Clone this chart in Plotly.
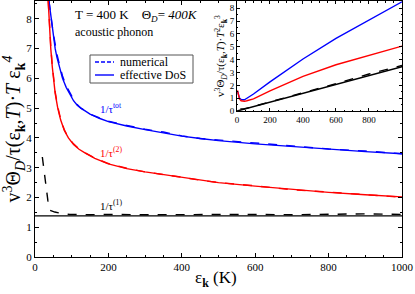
import plotly.graph_objects as go

# ---------------- main panel data ----------------
eps_blue = [38, 42, 46, 50, 55, 60, 67, 75, 85, 95, 105, 115, 125, 150, 175, 200, 250, 300, 350, 400, 450, 500, 600, 700, 800, 900, 1000]
tot_dos = [8.6, 8.2, 7.7, 7.35, 7.0, 6.7, 6.35, 6.0, 5.7, 5.45, 5.25, 5.1, 5.0, 4.8, 4.66, 4.55, 4.4, 4.28, 4.16, 4.06, 3.98, 3.91, 3.8, 3.71, 3.62, 3.54, 3.47]
tot_num = [8.6, 8.3, 7.85, 7.5, 7.12, 6.8, 6.45, 6.08, 5.75, 5.5, 5.3, 5.12, 5.0, 4.8, 4.67, 4.56, 4.42, 4.29, 4.2, 4.07, 3.98, 3.93, 3.82, 3.72, 3.63, 3.56, 3.47]

eps_red = [36, 39, 43, 47, 50, 55, 62, 70, 80, 91, 105, 120, 136, 163, 200, 250, 300, 350, 400, 450, 500, 600, 700, 800, 900, 1000]
two_dos = [8.6, 7.8, 7.0, 6.4, 6.0, 5.5, 5.0, 4.6, 4.25, 4.0, 3.78, 3.62, 3.5, 3.31, 3.13, 2.97, 2.86, 2.77, 2.67, 2.57, 2.5, 2.38, 2.27, 2.17, 2.09, 2.02]
two_num = [8.6, 7.85, 7.08, 6.45, 6.05, 5.55, 5.05, 4.62, 4.27, 4.01, 3.8, 3.63, 3.5, 3.32, 3.14, 2.98, 2.86, 2.78, 2.68, 2.58, 2.5, 2.39, 2.26, 2.18, 2.1, 2.01]

eps_one = [0, 1000]
one_dos = [1.38, 1.38]
eps_one_num = [20, 27, 35, 41, 54, 73, 95, 150, 200, 300, 400, 500, 600, 700, 800, 900, 1000]
one_num = [3.36, 2.69, 1.9, 1.57, 1.51, 1.46, 1.43, 1.42, 1.43, 1.42, 1.43, 1.42, 1.43, 1.42, 1.44, 1.45, 1.43]

# ---------------- inset data ----------------
in_eps = [3, 8, 15, 25, 35, 45, 60, 100, 200, 400, 600, 800, 1000]
in_tot = [1.55, 1.25, 1.02, 0.9, 0.86, 0.88, 1.0, 1.33, 2.27, 4.05, 5.65, 7.1, 8.5]
in_two = [1.6, 1.25, 0.95, 0.8, 0.75, 0.76, 0.8, 0.95, 1.57, 2.7, 3.6, 4.35, 5.05]
in_one_eps = [0, 1000]
in_one = [0.0, 3.45]
in_one_num_eps = [20, 40, 100, 200, 400, 600, 800, 1000]
in_one_num = [0.17, 0.16, 0.36, 0.71, 1.43, 2.13, 2.88, 3.55]

main_x_ticks = [0, 200, 400, 600, 800, 1000]
main_y_ticks = [0, 1, 2, 3, 4, 5, 6, 7, 8]
inset_x_ticks = [0, 200, 400, 600, 800]
inset_y_ticks = [0, 1, 2, 3, 4, 5, 6, 7, 8]
legend_names = ["numerical", "effective DoS"]

BLUE = "#0000ff"
RED = "#ff0000"
BLACK = "#000000"
FONT = "Liberation Serif, Times New Roman, DejaVu Serif, serif"

fig = go.Figure()

def add(x, y, color, dash, xa="x", ya="y", name=None):
    fig.add_trace(go.Scatter(x=x, y=y, mode="lines", xaxis=xa, yaxis=ya,
                             line=dict(color=color, width=1.4, dash=dash),
                             name=name, showlegend=False))

add(eps_blue, tot_num, BLUE, "dash", name=legend_names[0])
add(eps_blue, tot_dos, BLUE, "solid", name=legend_names[1])
add(eps_red, two_num, RED, "dash")
add(eps_red, two_dos, RED, "solid")
add(eps_one_num, one_num, BLACK, "dash")
add(eps_one, one_dos, BLACK, "solid")

add(in_eps, in_tot, BLUE, "solid", "x2", "y2")
add(in_eps, in_two, RED, "solid", "x2", "y2")
add(in_one_num_eps, in_one_num, BLACK, "dash", "x2", "y2")
add(in_one_eps, in_one, BLACK, "solid", "x2", "y2")

axis_common = dict(showgrid=False, zeroline=False, showline=True, linecolor="black",
                   linewidth=1, mirror="ticks", ticks="inside", tickcolor="black")
main_tick = dict(family=FONT, size=11, color="black")
inset_tick = dict(family=FONT, size=9, color="black")

fig.update_layout(
    width=415, height=294,
    margin=dict(l=35, r=13, t=1, b=37),
    paper_bgcolor="white", plot_bgcolor="white",
    font=dict(family=FONT, color="black"),
    showlegend=False,
    xaxis=dict(domain=[0, 1], range=[0, 1000], tickvals=main_x_ticks, ticklen=4,
               minor=dict(ticks="inside", dtick=50, ticklen=2, tickcolor="black"),
               tickfont=main_tick, ticklabeloverflow="allow", **axis_common),
    yaxis=dict(domain=[0, 1], range=[0, 8.6], tickvals=main_y_ticks, ticklen=4,
               minor=dict(ticks="inside", dtick=0.5, ticklen=2, tickcolor="black"),
               tickfont=main_tick,
               title=dict(text="v<sup>3</sup>Θ<sub><i>D</i></sub>/τ(ε<sub><b>k</b></sub>,<i>T</i>)·<i>T</i> ε<sub><b>k</b></sub><sup><i>4</i></sup>",
                          font=dict(family=FONT, size=20), standoff=2),
               **axis_common),
    xaxis2=dict(domain=[0.5504, 1.0], range=[0, 1000], anchor="y2", tickvals=inset_x_ticks, ticklen=3,
                minor=dict(ticks="inside", dtick=50, ticklen=1.5, tickcolor="black"),
                tickfont=inset_tick, **axis_common),
    yaxis2=dict(domain=[0.570, 1.0], range=[0, 8.56], anchor="x2", tickvals=inset_y_ticks, ticklen=3,
                minor=dict(ticks="inside", dtick=0.5, ticklen=1.5, tickcolor="black"),
                tickfont=inset_tick,
                title=dict(text="v<sup>3</sup>Θ<sub><i>D</i></sub>/τ(ε<sub><b>k</b></sub>,<i>T</i>)·<i>T</i><sup>2</sup>ε<sub><b>k</b></sub><sup>3</sup>",
                           font=dict(family=FONT, size=11), standoff=2),
                **axis_common),
)

l, r, t, b = 35, 13, 1, 37
pw, ph = 415 - l - r, 294 - t - b

def px2paper(x, y):
    return (x - l) / pw, 1 - (y - t) / ph

# legend box drawn by hand (compact, like the original)
x0, y0 = px2paper(90, 55)
x1, y1 = px2paper(193, 83)
fig.add_shape(type="rect", xref="paper", yref="paper", x0=x0, y0=y1, x1=x1, y1=y0,
              line=dict(color="#555555", width=1), fillcolor="white", layer="above")
for i, (nm, dash) in enumerate(zip(legend_names, ["dash", "solid"])):
    yy = 62 + 13 * i
    ax0, ay = px2paper(95, yy)
    ax1, _ = px2paper(114, yy)
    fig.add_shape(type="line", xref="paper", yref="paper", x0=ax0, x1=ax1, y0=ay, y1=ay,
                  line=dict(color=BLUE, width=1.4, dash="4px,2px" if dash == "dash" else "solid"),
                  layer="above")
    tx, ty = px2paper(118, yy)
    fig.add_annotation(x=tx, y=ty, xref="paper", yref="paper", text=nm, showarrow=False,
                       xanchor="left", yanchor="middle", height=12, valign="middle",
                       font=dict(family=FONT, size=12, color=BLACK))

ann = [
    dict(x=73, y=15, text="T = 400 K&nbsp;&nbsp;&nbsp;&nbsp;Θ<sub><i>D</i></sub>= <i>400K</i>", size=13, color=BLACK),
    dict(x=73, y=32, text="acoustic phonon", size=12, color=BLACK),
    dict(x=98, y=108, text="1/τ<sup>tot</sup>", size=11, color=BLUE),
    dict(x=98, y=152, text="1/τ<sup>(2)</sup>", size=11, color=RED),
    dict(x=98, y=205, text="1/τ<sup>(1)</sup>", size=11, color=BLACK),
]
for a in ann:
    ax, ay = px2paper(a["x"], a["y"])
    fig.add_annotation(x=ax, y=ay, xref="paper", yref="paper",
                       text=a["text"], showarrow=False, xanchor="left", yanchor="middle",
                       font=dict(family=FONT, size=a["size"], color=a["color"]))

# x-axis title
ax, ay = px2paper(216, 279)
fig.add_annotation(x=ax, y=ay, xref="paper", yref="paper",
                   text="ε<sub><b>k</b></sub> (K)", showarrow=False, xanchor="center", yanchor="middle",
                   font=dict(family=FONT, size=17, color=BLACK))

fig.write_html("out.html", include_plotlyjs=True, config={"displayModeBar": False},
               post_script="document.body.style.margin='0';document.body.style.padding='0';")
